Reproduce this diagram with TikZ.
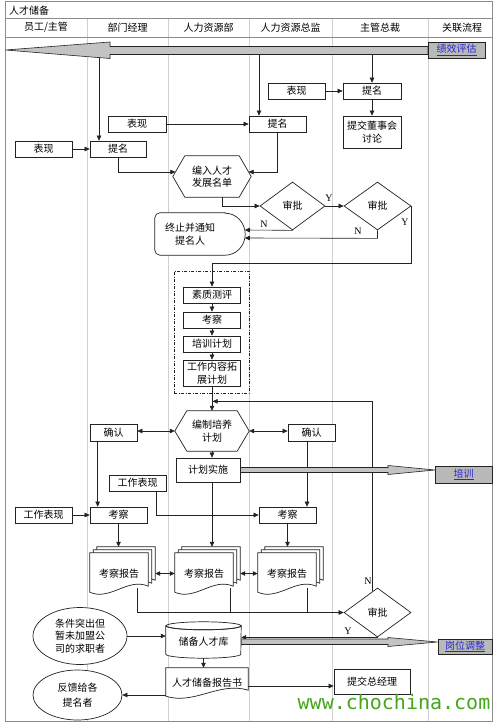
\documentclass[tikz,border=0pt]{standalone}
\usepackage{fontspec}
\setmainfont{Noto Sans CJK SC}
\newfontfamily\latfont{Liberation Serif}
\newfontfamily\wmfont{DejaVu Sans Mono}
\usetikzlibrary{arrows.meta,calc,shapes.geometric,shadows}
\pgfdeclarelayer{grid}\pgfdeclarelayer{conn}\pgfdeclarelayer{shp}
\pgfsetlayers{grid,conn,shp,main}
\definecolor{gridc}{RGB}{208,208,208}
\definecolor{framec}{RGB}{140,140,140}
\definecolor{arrowgray}{RGB}{195,195,195}
\definecolor{linkgray}{RGB}{185,185,185}
\definecolor{linkblue}{RGB}{40,40,210}
\definecolor{wmgreen}{RGB}{70,165,30}
\definecolor{linec}{RGB}{35,35,35}
\newcommand\hexpath[2]{\draw[shapeline,fill=white] (#1.west) -- ($(#1.north west)+(#2,0)$) -- ($(#1.north east)+(-#2,0)$) -- (#1.east) -- ($(#1.south east)+(-#2,0)$) -- ($(#1.south west)+(#2,0)$) -- cycle;}
\newcommand\docpath[4]{\draw[shapeline,fill=white] ($(#1.north west)+(#3,#4)$) -- ($(#1.north east)+(#3,#4)$) -- ($(#1.south east)+(#3,#4-8)$) .. controls +(-0.35*#2,-9) and +(0.35*#2,9) .. ($(#1.south west)+(#3,#4-2)$) -- cycle;}
\tikzset{
 txt/.style={font=\fontsize{10}{12.5}\selectfont},
 box/.style={txt, draw=linec, line width=0.7pt, fill=white, inner sep=1pt, minimum height=16pt, align=center},
 ghost/.style={txt, draw=none, inner sep=0pt, align=center},
 dia/.style={txt, diamond, draw=linec, line width=0.7pt, fill=white, inner sep=0pt},
 ell/.style={txt, ellipse, draw=linec, line width=0.7pt, fill=white, inner sep=0pt, align=center},
 conn/.style={draw=linec, line width=0.6pt},
 arr/.style={conn, -{Triangle[length=5pt,width=4.5pt]}},
 darr/.style={conn, {Triangle[length=5pt,width=4.5pt]}-{Triangle[length=5pt,width=4.5pt]}},
 shapeline/.style={draw=linec, line width=0.7pt},
 link/.style={txt, draw=linec, line width=0.7pt, fill=linkgray, inner sep=0pt, text=linkblue},
 bigarrow/.style={draw=linec, line width=0.6pt, fill=arrowgray},
 lab/.style={font=\latfont\fontsize{10}{12}\selectfont, inner sep=0pt},
 hdr/.style={txt, inner sep=0pt},
 grpframe/.style={draw=linec, line width=0.6pt, dash pattern=on 3pt off 1.5pt on 1pt off 1.5pt},
}
\begin{document}
\begin{tikzpicture}[x=1pt,y=-1pt]
\useasboundingbox (0,0) rectangle (499,722);
% ---------- grid ----------
\begin{pgfonlayer}{grid}
\fill[white] (0,0) rectangle (499,722);
\foreach \x in {87,168,249,332,428} \draw[gridc, line width=1pt] (\x,37) -- (\x,721);
\foreach \x in {87,168,249,332,428} \draw[gridc, line width=1pt] (\x,18) -- (\x,37);
\draw[framec, line width=0.8pt] (5,18) -- (492.5,18);
\draw[framec, line width=0.8pt] (5,37) -- (492.5,37);
\draw[framec, line width=1pt] (5,2) rectangle (492.5,721);
\end{pgfonlayer}
% ---------- header ----------
\node[hdr, anchor=west] (title) at (9,10.5) {人才储备};
\node[hdr] (h1) at (46,27.5) {员工/主管};
\node[hdr] (h2) at (127.5,27.5) {部门经理};
\node[hdr] (h3) at (208.5,27.5) {人力资源部};
\node[hdr] (h4) at (290.5,27.5) {人力资源总监};
\node[hdr] (h5) at (380,27.5) {主管总裁};
\node[hdr] (h6) at (462,27.5) {关联流程};
% ---------- top ----------
\node[link, minimum width=57pt, minimum height=16pt] (jx) at (456.5,50) {\underline{绩效评估}};
\node[box, minimum width=58pt] (tmA) at (372,91) {提名};
\node[box, minimum width=57pt] (bxA) at (296.5,91) {表现};
\node[box, minimum width=58pt, minimum height=32pt] (tj) at (372,132) {提交董事会\\讨论};
\node[box, minimum width=57pt] (tmB) at (277.5,124) {提名};
\node[box, minimum width=58pt] (bxB) at (137,124) {表现};
\node[box, minimum width=57pt] (bxC) at (43.5,149) {表现};
\node[box, minimum width=56pt] (tmC) at (118,149) {提名};
\node[ghost, minimum width=78pt, minimum height=41pt] (hx1) at (212,176.5) {编入人才\\发展名单};
\node[dia, minimum width=65pt, minimum height=48pt] (d1) at (292.5,206) {审批};
\node[dia, minimum width=67pt, minimum height=48pt] (d2) at (377.5,206) {审批};
\node[ghost, minimum width=70pt, minimum height=42pt] (stop) at (190,234) {终止并通知\\提名人};
% ---------- group ----------
\node[box, minimum width=57pt] (sz) at (212,295) {素质测评};
\node[box, minimum width=57pt] (kc) at (212,320) {考察};
\node[box, minimum width=57pt] (pj) at (212,344) {培训计划};
\node[box, minimum width=57pt, minimum height=26pt] (gz) at (212,373) {工作内容拓\\展计划};
% ---------- training ----------
\node[ghost, minimum width=74pt, minimum height=40pt] (hx2) at (212,431) {编制培养\\计划};
\node[box, minimum width=47pt, minimum height=17pt] (qrL) at (113.5,433) {确认};
\node[box, minimum width=47pt, minimum height=17pt] (qrR) at (311.5,433) {确认};
\node[box, minimum width=64pt, minimum height=24pt] (js) at (208,470) {计划实施};
\node[link, minimum width=57pt, minimum height=17pt] (px) at (463.5,474.5) {\underline{培训}};
\node[box, minimum width=57pt] (gbB) at (137.5,483) {工作表现};
\node[box, minimum width=57pt] (gbA) at (43.5,515) {工作表现};
\node[box, minimum width=57pt] (kcL) at (118.5,515) {考察};
\node[box, minimum width=57pt] (kcR) at (287.5,515) {考察};
\node[ghost, minimum width=58pt, minimum height=41pt] (kbL) at (119,573.5) {考察报告};
\node[ghost, minimum width=58pt, minimum height=41pt] (kbM) at (204,573.5) {考察报告};
\node[ghost, minimum width=58pt, minimum height=41pt] (kbR) at (287,573.5) {考察报告};
\node[dia, minimum width=67pt, minimum height=49pt] (d3) at (377.5,612.5) {审批};
% ---------- bottom ----------
\node[ell, minimum width=94pt, minimum height=57pt] (el1) at (80,636) {条件突出但\\暂未加盟公\\司的求职者};
\node[ghost, minimum width=75pt, minimum height=32pt] (cyl) at (203.5,642) {储备人才库};
\node[link, minimum width=54pt, minimum height=15pt] (gw) at (465,646.5) {\underline{岗位调整}};
\node[ghost, minimum width=82pt, minimum height=30pt] (bg) at (207,683) {人才储备报告书};
\node[ell, minimum width=89pt, minimum height=50pt] (el2) at (77.5,695) {反馈给各\\[2pt]提名者};
\node[box, minimum width=76pt, minimum height=25pt, drop shadow={shadow xshift=1.2pt, shadow yshift=-1.2pt, opacity=0.7}] (zgl) at (372,681.5) {提交总经理};
% ---------- labels ----------
\node[lab] (lY1) at (329,198) {Y};
\node[lab] (lN1) at (264,224) {N};
\node[lab] (lN2) at (358,231) {N};
\node[lab] (lY2) at (405,222) {Y};
\node[lab] (lN3) at (368,581) {N};
\node[lab] (lY3) at (348,631) {Y};
\node[font=\wmfont\fontsize{20}{20}\selectfont, text=wmgreen, inner sep=0pt] (wm) at (394,702) {www.chochina.com};
% ---------- shapes ----------
\begin{pgfonlayer}{shp}
\draw[bigarrow] (428,46.5) -- (110,46.5) -- (110,42) -- (5.5,50) -- (110,58.5) -- (110,54.5) -- (428,54.5) -- cycle;
\draw[bigarrow] (240,467.5) -- (388,467.5) -- (388,465.5) -- (435,470) -- (388,474.5) -- (388,472.5) -- (240,472.5) -- cycle;
\draw[bigarrow] (241,639) -- (388,639) -- (388,637.5) -- (437.5,642) -- (388,646.5) -- (388,644.5) -- (241,644.5) -- cycle;
\hexpath{hx1}{12}
\hexpath{hx2}{12}
\draw[shapeline,fill=white] (stop.north east) -- ($(stop.north west)+(5,0)$) arc[start angle=-90,end angle=-180,radius=5] -- ($(stop.south west)+(0,-5)$) arc[start angle=180,end angle=90,radius=5] -- (stop.south east) arc[start angle=90,end angle=-90,x radius=20,y radius=21] -- cycle;
\node[grpframe, minimum width=75pt, minimum height=122pt, inner sep=0pt] (grp) at (211.5,332) {};
\docpath{kbL}{58}{7}{-6}\docpath{kbL}{58}{3.5}{-3}\docpath{kbL}{58}{0}{0}
\docpath{kbM}{58}{7}{-6}\docpath{kbM}{58}{3.5}{-3}\docpath{kbM}{58}{0}{0}
\docpath{kbR}{58}{7}{-6}\docpath{kbR}{58}{3.5}{-3}\docpath{kbR}{58}{0}{0}
\docpath{bg}{82}{0}{0}
\draw[shapeline,fill=white] (cyl.north west) -- ($(cyl.south west)+(0,-4)$) arc[start angle=180,end angle=0,x radius=37.5,y radius=4] -- (cyl.north east) arc[start angle=0,end angle=180,x radius=37.5,y radius=4] -- cycle;
\draw[shapeline] (cyl.north) ellipse[x radius=37.5,y radius=4];
\end{pgfonlayer}
% ---------- connectors ----------
\begin{pgfonlayer}{conn}
\coordinate (sA) at (372,54.5);
\coordinate (sB) at (259,54.5);
\coordinate (sC) at (99,54.5);
\draw[arr] (sA) -- (tmA.north);
\draw[arr] (sB) -- (sB |- tmB.north);
\draw[arr] (sC) -- (sC |- tmC.north);
\draw[arr] (bxA.east) -- (tmA.west);
\draw[arr] (tmA.south) -- (tj.north);
\draw[arr] (bxB.east) -- (bxB.east -| tmB.west);
\draw[arr] (bxC.east) -- (tmC.west);
\coordinate (hxL) at ($(hx1.west)+(2.6,-4.5)$);
\coordinate (hxR) at ($(hx1.east)+(-2.6,-4.5)$);
\draw[arr] (tmC.south) |- (hxL);
\draw[arr] (tmB.south) |- (hxR);
\draw[arr] ($(hx1.south)+(10,0)$) |- (d1.west);
\draw[arr] (d1.east) -- (d2.west);
\coordinate (stR1) at ($(stop.east)+(19.6,-4)$);
\coordinate (stR2) at ($(stop.east)+(19.6,4)$);
\draw[arr] (d1.south) -- (stR1);
\draw[arr] (d2.south) -- ++(0,8) -- (stR2);
\coordinate (kY) at (212,263);
\draw[arr] (d2.east) |- (kY) -- (sz.north);
\draw[arr] (sz.south) -- (kc.north);
\draw[arr] (kc.south) -- (pj.north);
\draw[arr] (pj.south) -- (gz.north);
\draw[arr] (gz.south) -- (hx2.north);
\coordinate (lp1) at ($(d3.north)+(-5,3.7)$);
\coordinate (lpE) at ($(gz.south)+(0.6,15)$);
\draw[arr] (lp1) |- (lpE);
\draw[darr] (qrL.east |- hx2.west) -- (hx2.west);
\draw[darr] (hx2.east) -- (qrR.west |- hx2.east);
\draw[arr] (hx2.south) -- (hx2.south |- js.north);
\coordinate (kbMtop) at ($(kbM.north)+(0,-6)$);
\coordinate (kbLtop) at ($(kbL.north)+(0,-6)$);
\coordinate (kbRtop) at ($(kbR.north)+(0,-6)$);
\draw[arr] (hx2.south |- js.south) -- (hx2.south |- kbMtop);
\coordinate (qL) at ($(qrL.south west)+(8,0)$);
\draw[arr] (qL) -- (qL |- kcL.north);
\coordinate (qR) at ($(qrR.south)+(-4.5,0)$);
\draw[arr] (qR) -- (qR |- kcR.north);
\draw[arr] (gbA.east) -- (kcL.west);
\draw[arr] ($(gbB.south east)+(-10,0)$) |- (kcR.west);
\draw[arr] (kcL.south) -- (kcL.south |- kbLtop);
\draw[arr] (kcR.south) -- (kcR.south |- kbRtop);
\draw[darr] ($(kbL.east)+(7,0)$) -- (kbM.west);
\draw[darr] ($(kbM.east)+(7,0)$) -- (kbR.west);
\coordinate (bL) at ($(kbL.south)+(18,-6)$);
\coordinate (bM) at ($(kbM.south)+(26,-6)$);
\coordinate (bR) at ($(kbR.south)+(20,-6)$);
\draw[arr] (bL) |- (d3.west);
\draw[conn] (bM) -- (bM |- d3.west);
\draw[conn] (bR) -- (bR |- d3.west);
\draw[arr] (d3.south) -- (cyl.east |- d3.south);
\draw[arr] (el1.east) -- (cyl.west |- el1.east);
\draw[arr] (cyl.south) -- (cyl.south |- bg.north);
\draw[arr] (bg.west |- el2.east) -- (el2.east);
\draw[arr] ($(bg.east)+(0,3)$) -- ($(zgl.west)+(0,4.5)$);
\end{pgfonlayer}
\end{tikzpicture}
\end{document}
